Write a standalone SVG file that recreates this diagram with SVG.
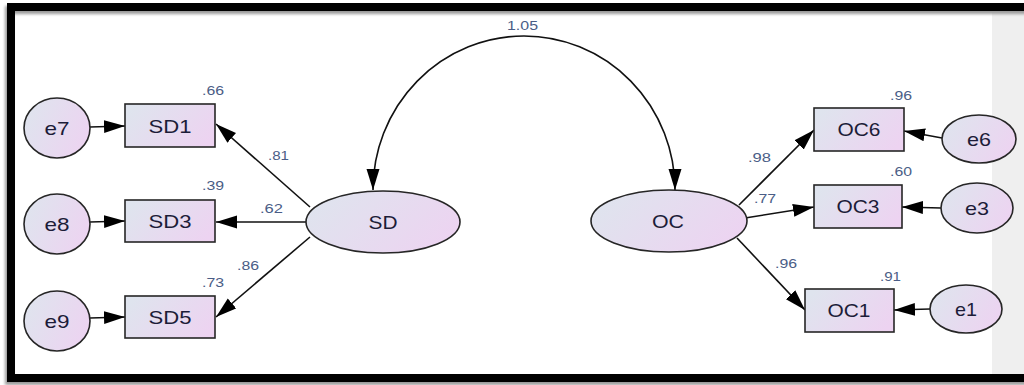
<svg xmlns="http://www.w3.org/2000/svg" width="1024" height="385" viewBox="0 0 1024 385">
  <style>
    .node { fill: url(#nodeFill); stroke: #262626; stroke-width: 1.6; }
    .name { font-family: "Liberation Sans", Arial, sans-serif; font-size: 19px; fill: #1c1c38; text-anchor: middle; }
    .est { font-family: "Liberation Sans", Arial, sans-serif; font-size: 12.5px; fill: #4a5d86; }
    .edge { fill: none; stroke: #111; stroke-width: 1.6; marker-end: url(#head); }
  </style>
  <defs>
    <linearGradient id="nodeFill" x1="0" y1="0.3" x2="1" y2="0.7">
      <stop offset="0" stop-color="#dfe4ee"/>
      <stop offset="1" stop-color="#edd3f1"/>
    </linearGradient>
    <marker id="head" markerUnits="userSpaceOnUse" markerWidth="22" markerHeight="14" refX="21" refY="6.5" orient="auto-start-reverse">
      <path d="M0,0 L21,6.5 L0,13 Z" fill="#000"/>
    </marker>
    <filter id="soft" x="-5%" y="-5%" width="110%" height="110%">
      <feGaussianBlur stdDeviation="1.5"/>
    </filter>
  </defs>

  <!-- canvas -->
  <rect x="0" y="0" width="1024" height="385" fill="#fff"/>
  <rect x="992" y="11" width="32" height="363" fill="#efefef"/>

  <!-- frame with shadow -->
  <rect x="9" y="10" width="1100" height="371" fill="none" stroke="#9a9a9a" stroke-width="8" filter="url(#soft)"/>
  <rect x="11" y="7" width="1100" height="371" fill="none" stroke="#000" stroke-width="8"/>

  <!-- connectors -->
  <g id="connectors">
    <path class="edge" d="M90,127 L125,126"/>
    <path class="edge" d="M90,222 L125,221"/>
    <path class="edge" d="M90,318 L125,317"/>
    <path class="edge" d="M310,207 L216,124"/>
    <path class="edge" d="M306,222 L216,222"/>
    <path class="edge" d="M310,237 L216,317"/>
    <path class="edge" d="M373,190 A151,154 0 0 1 675,190" marker-start="url(#head)"/>
    <path class="edge" d="M739,205 L814,130"/>
    <path class="edge" d="M745,218 L814,207"/>
    <path class="edge" d="M737,238 L805,310"/>
    <path class="edge" d="M942,138 L904,131"/>
    <path class="edge" d="M941,208 L902,207"/>
    <path class="edge" d="M930,309 L894,310"/>
  </g>

  <!-- estimate labels -->
  <g id="estimates">
    <text class="est" x="202" y="95" textLength="22" lengthAdjust="spacingAndGlyphs">.66</text>
    <text class="est" x="268" y="160" textLength="21" lengthAdjust="spacingAndGlyphs">.81</text>
    <text class="est" x="202" y="190" textLength="22" lengthAdjust="spacingAndGlyphs">.39</text>
    <text class="est" x="260" y="213" textLength="23" lengthAdjust="spacingAndGlyphs">.62</text>
    <text class="est" x="237" y="270" textLength="22" lengthAdjust="spacingAndGlyphs">.86</text>
    <text class="est" x="202" y="287" textLength="22" lengthAdjust="spacingAndGlyphs">.73</text>
    <text class="est" x="507" y="30" textLength="31" lengthAdjust="spacingAndGlyphs">1.05</text>
    <text class="est" x="748" y="162" textLength="23" lengthAdjust="spacingAndGlyphs">.98</text>
    <text class="est" x="890" y="100" textLength="22" lengthAdjust="spacingAndGlyphs">.96</text>
    <text class="est" x="890" y="176" textLength="22" lengthAdjust="spacingAndGlyphs">.60</text>
    <text class="est" x="754" y="203" textLength="22" lengthAdjust="spacingAndGlyphs">.77</text>
    <text class="est" x="775" y="268" textLength="22" lengthAdjust="spacingAndGlyphs">.96</text>
    <text class="est" x="880" y="281" textLength="21" lengthAdjust="spacingAndGlyphs">.91</text>
  </g>

  <!-- error terms, left -->
  <g id="e7"><ellipse class="node" cx="57" cy="128" rx="33" ry="30"/><text class="name" x="57" y="135" textLength="25" lengthAdjust="spacingAndGlyphs">e7</text></g>
  <g id="e8"><ellipse class="node" cx="57" cy="224" rx="33" ry="30"/><text class="name" x="57" y="231" textLength="25" lengthAdjust="spacingAndGlyphs">e8</text></g>
  <g id="e9"><ellipse class="node" cx="57" cy="321" rx="33" ry="30"/><text class="name" x="57" y="328" textLength="25" lengthAdjust="spacingAndGlyphs">e9</text></g>

  <!-- SD indicators -->
  <g id="SD1"><rect class="node" x="125" y="104" width="90" height="43"/><text class="name" x="170" y="133" textLength="43" lengthAdjust="spacingAndGlyphs">SD1</text></g>
  <g id="SD3"><rect class="node" x="125" y="200" width="90" height="42"/><text class="name" x="170" y="228" textLength="43" lengthAdjust="spacingAndGlyphs">SD3</text></g>
  <g id="SD5"><rect class="node" x="125" y="296" width="90" height="42"/><text class="name" x="170" y="324" textLength="43" lengthAdjust="spacingAndGlyphs">SD5</text></g>

  <!-- latent factors -->
  <g id="SD"><ellipse class="node" cx="383" cy="222" rx="77" ry="31"/><text class="name" x="383" y="229" textLength="29" lengthAdjust="spacingAndGlyphs">SD</text></g>
  <g id="OC"><ellipse class="node" cx="669" cy="221" rx="78" ry="31"/><text class="name" x="668" y="228" textLength="32" lengthAdjust="spacingAndGlyphs">OC</text></g>

  <!-- OC indicators -->
  <g id="OC6"><rect class="node" x="814" y="108" width="90" height="43"/><text class="name" x="859" y="136" textLength="43" lengthAdjust="spacingAndGlyphs">OC6</text></g>
  <g id="OC3"><rect class="node" x="814" y="185" width="88" height="43"/><text class="name" x="858" y="213" textLength="43" lengthAdjust="spacingAndGlyphs">OC3</text></g>
  <g id="OC1"><rect class="node" x="805" y="289" width="89" height="43"/><text class="name" x="849" y="317" textLength="43" lengthAdjust="spacingAndGlyphs">OC1</text></g>

  <!-- error terms, right -->
  <g id="e6"><ellipse class="node" cx="979" cy="139" rx="37" ry="24"/><text class="name" x="979" y="146" textLength="24" lengthAdjust="spacingAndGlyphs">e6</text></g>
  <g id="e3"><ellipse class="node" cx="977" cy="208" rx="36" ry="25"/><text class="name" x="977" y="215" textLength="24" lengthAdjust="spacingAndGlyphs">e3</text></g>
  <g id="e1"><ellipse class="node" cx="966" cy="309" rx="36" ry="24"/><text class="name" x="966" y="316" textLength="22" lengthAdjust="spacingAndGlyphs">e1</text></g>
</svg>
